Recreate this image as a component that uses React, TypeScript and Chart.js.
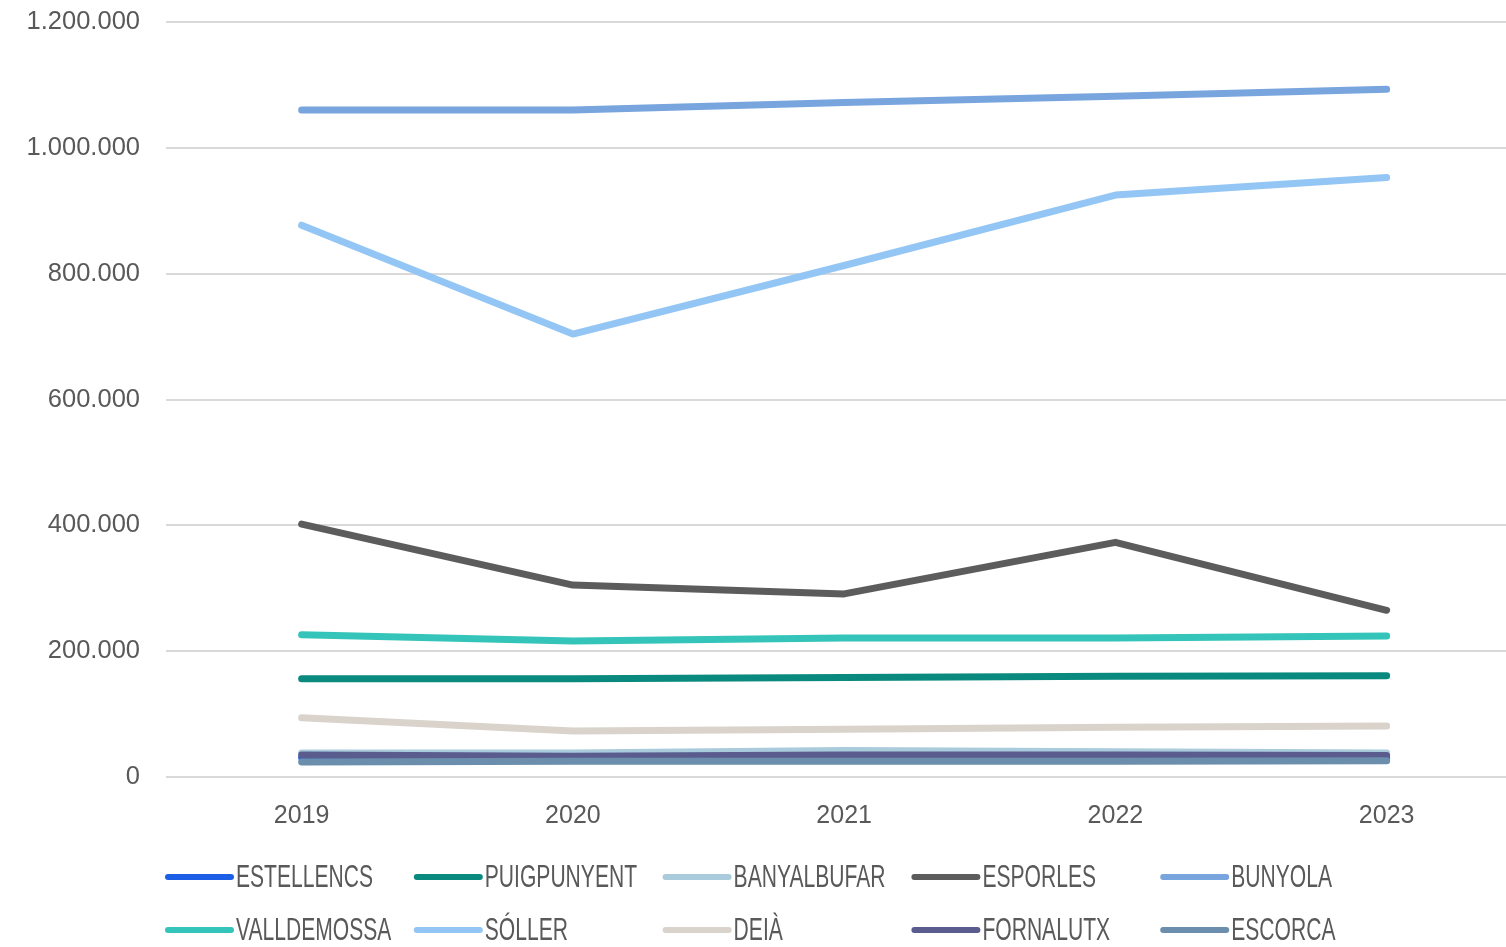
import { useEffect, useRef } from "react";
import { Chart, registerables } from "chart.js";

Chart.register(...registerables);

const YEARS = [2019, 2020, 2021, 2022, 2023];

const SERIES_NAMES = [
  "ESTELLENCS",
  "PUIGPUNYENT",
  "BANYALBUFAR",
  "ESPORLES",
  "BUNYOLA",
  "VALLDEMOSSA",
  "SÓLLER",
  "DEIÀ",
  "FORNALUTX",
  "ESCORCA",
];

const ESTELLENCS = [31000, 29000, 30000, 30000, 30000];
const PUIGPUNYENT = [156000, 156000, 158000, 160000, 161000];
const BANYALBUFAR = [38000, 38000, 42000, 40000, 38000];
const ESPORLES = [402000, 305000, 291000, 373000, 265000];
const BUNYOLA = [1060000, 1060000, 1072000, 1082000, 1093000];
const VALLDEMOSSA = [226000, 216000, 221000, 221000, 224000];
const SOLLER = [877000, 704000, 813000, 925000, 953000];
const DEIA = [94000, 73000, 76000, 79000, 81000];
const FORNALUTX = [35000, 33000, 35000, 35000, 34000];
const ESCORCA = [24000, 25000, 25000, 25000, 26000];

const SERIES_VALUES = [
  ESTELLENCS,
  PUIGPUNYENT,
  BANYALBUFAR,
  ESPORLES,
  BUNYOLA,
  VALLDEMOSSA,
  SOLLER,
  DEIA,
  FORNALUTX,
  ESCORCA,
];

const COLORS = [
  "#1c5fe6",
  "#0a8a7e",
  "#a9cbdc",
  "#5c5c5c",
  "#79a5de",
  "#35c4ba",
  "#93c6f4",
  "#d9d3cc",
  "#5b5c8e",
  "#6a8eab",
];

const Y_TICKS = [0, 200000, 400000, 600000, 800000, 1000000, 1200000];

const fmt = (v: number) =>
  String(Math.round(v)).replace(/\B(?=(\d{3})+(?!\d))/g, ".");

const TEXT_COLOR = "#595959";

const gridLegend = {
  id: "gridLegend",
  afterDraw(chart: any) {
    const ctx = chart.ctx as CanvasRenderingContext2D;
    const area = chart.chartArea;
    const colW = 248.8;
    const left = area.left - 1;
    const rowY = [area.bottom + 100, area.bottom + 153];
    ctx.save();
    chart.data.datasets.forEach((ds: any, i: number) => {
      const col = i % 5;
      const row = Math.floor(i / 5);
      const x = left + col * colW;
      const y = rowY[row];
      ctx.beginPath();
      ctx.strokeStyle = ds.borderColor;
      ctx.lineWidth = 6;
      ctx.lineCap = "round";
      ctx.moveTo(x + 3, y);
      ctx.lineTo(x + 66, y);
      ctx.stroke();
      ctx.save();
      ctx.translate(x + 71, y);
      ctx.scale(0.68, 1);
      ctx.fillStyle = TEXT_COLOR;
      ctx.font = "31px 'Liberation Sans', Arial, sans-serif";
      ctx.textBaseline = "middle";
      ctx.textAlign = "left";
      ctx.fillText(ds.label, 0, 1);
      ctx.restore();
    });
    ctx.restore();
  },
};

export default function App() {
  const ref = useRef<HTMLCanvasElement | null>(null);

  useEffect(() => {
    document.body.style.margin = "0";
    if (!ref.current) return;
    const datasets = SERIES_NAMES.map((name, i) => ({
      label: name,
      data: YEARS.map((yr, j) => ({ x: yr, y: SERIES_VALUES[i][j] })),
      borderColor: COLORS[i],
      backgroundColor: COLORS[i],
      borderWidth: 7,
      borderCapStyle: "round" as const,
      borderJoinStyle: "round" as const,
      pointRadius: 0,
      pointHoverRadius: 0,
      tension: 0,
      fill: false,
      order: -i,
    }));

    const chart = new Chart(ref.current, {
      type: "line",
      data: { datasets },
      plugins: [gridLegend],
      options: {
        animation: false,
        responsive: false,
        maintainAspectRatio: false,
        layout: { padding: { top: 22, right: 0, left: 0, bottom: 100 } },
        plugins: {
          legend: { display: false },
          tooltip: { enabled: false },
          title: { display: false },
        },
        scales: {
          x: {
            type: "linear",
            min: 2018.5,
            max: 2023.44,
            afterBuildTicks: (scale: any) => {
              scale.ticks = YEARS.map((v) => ({ value: v }));
            },
            afterFit: (scale: any) => {
              scale.height = 70;
              scale.paddingLeft = 0;
              scale.paddingRight = 0;
            },
            grid: { display: false, drawTicks: false },
            border: { display: false },
            ticks: {
              padding: 24,
              color: TEXT_COLOR,
              font: { family: "'Liberation Sans', Arial, sans-serif", size: 25 },
              callback: (v: any) => String(v),
              autoSkip: false,
              maxRotation: 0,
            },
          },
          y: {
            min: 0,
            max: 1200000,
            afterBuildTicks: (scale: any) => {
              scale.ticks = Y_TICKS.map((v) => ({ value: v }));
            },
            afterFit: (scale: any) => {
              scale.width = 166;
              scale.paddingTop = 0;
              scale.paddingBottom = 0;
            },
            grid: { color: "#d9d9d9", lineWidth: 2, drawTicks: false },
            border: { display: false },
            ticks: {
              padding: 26,
              color: TEXT_COLOR,
              font: { family: "'Liberation Sans', Arial, sans-serif", size: 25.5 },
              callback: (v: any) => fmt(Number(v)),
            },
          },
        },
      },
    });
    return () => chart.destroy();
  }, []);

  return (
    <div style={{ width: 1506, height: 947, background: "#fff" }}>
      <canvas ref={ref} width={1506} height={947} />
    </div>
  );
}
